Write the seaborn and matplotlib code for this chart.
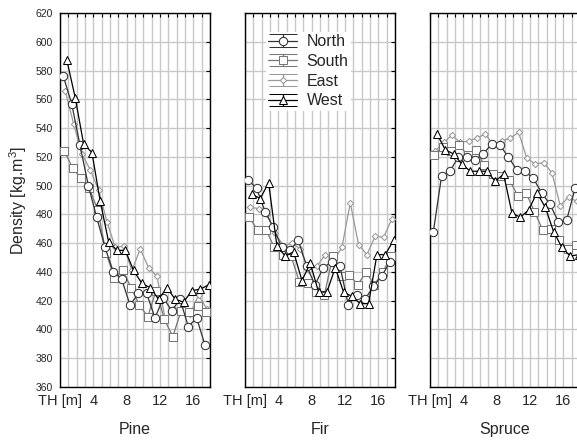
import numpy as np
import pandas as pd
import seaborn as sns
import matplotlib.pyplot as plt
from matplotlib.container import ErrorbarContainer
from matplotlib.legend_handler import HandlerErrorbar

species = ['Pine', 'Fir', 'Spruce']
aspects = ['North', 'South', 'East', 'West']
th = np.arange(1, 19)  # sampling position along the stem

pine_north = [576, 557, 528, 500, 478, 457, 440, 435, 417, 425, 425, 408, 422, 413, 421, 402, 408, 389]
pine_south = [524, 512, 505, 498, 483, 453, 436, 441, 429, 417, 409, 427, 407, 395, 413, 412, 416, 412]
pine_east = [566, 543, 522, 511, 497, 475, 457, 458, 441, 456, 443, 437, 407, 414, 415, 411, 424, 414]
pine_west = [587, 561, 529, 523, 489, 461, 455, 455, 441, 432, 429, 421, 429, 421, 419, 427, 428, 431]

fir_north = [504, 498, 482, 471, 457, 455, 462, 444, 431, 443, 447, 444, 417, 424, 421, 430, 437, 447]
fir_south = [478, 469, 469, 457, 452, 451, 433, 432, 426, 424, 451, 437, 438, 431, 440, 431, 440, 451]
fir_east = [485, 484, 480, 467, 458, 460, 456, 441, 444, 452, 448, 457, 488, 459, 452, 465, 464, 477]
fir_west = [494, 491, 502, 458, 451, 454, 434, 446, 426, 426, 443, 426, 423, 418, 418, 452, 452, 462]

spruce_north = [468, 507, 510, 520, 520, 518, 522, 529, 528, 520, 511, 510, 505, 495, 487, 475, 476, 498]
spruce_south = [521, 527, 524, 528, 521, 525, 514, 508, 507, 504, 493, 495, 482, 469, 470, 462, 456, 459]
spruce_east = [524, 530, 535, 530, 531, 533, 536, 528, 531, 533, 537, 519, 515, 516, 509, 486, 492, 489]
spruce_west = [536, 525, 522, 515, 510, 510, 510, 503, 508, 481, 478, 483, 495, 485, 468, 457, 451, 452]

values = {
    'Pine': [pine_north, pine_south, pine_east, pine_west],
    'Fir': [fir_north, fir_south, fir_east, fir_west],
    'Spruce': [spruce_north, spruce_south, spruce_east, spruce_west],
}
rows = []
for sp in species:
    for asp, vals in zip(aspects, values[sp]):
        for h, v in zip(th, vals):
            rows.append((sp, asp, h, v))
df = pd.DataFrame(rows, columns=['species', 'aspect', 'th', 'density'])

styles = {
    'North': dict(color='#333333', marker='o', ms=6),
    'South': dict(color='#777777', marker='s', ms=6),
    'East': dict(color='#999999', marker='D', ms=3.2),
    'West': dict(color='black', marker='^', ms=5.5),
}
shift = {'North': -0.6, 'South': -0.47, 'East': -0.37, 'West': -0.17}

sns.set_style('white')
plt.rcParams['font.family'] = ['Liberation Sans', 'DejaVu Sans']
plt.rcParams['mathtext.fontset'] = 'custom'
plt.rcParams['mathtext.rm'] = 'Liberation Sans'
plt.rcParams['mathtext.it'] = 'Liberation Sans:italic'

fig, axes = plt.subplots(1, 3, sharey=True, figsize=(5.77, 4.44), dpi=100)
fig.subplots_adjust(left=0.104, right=1.0052, top=0.9707, bottom=0.1284, wspace=0.2333)

for ax, sp in zip(axes, species):
    for asp in ['East', 'South', 'North', 'West']:
        sub = df[(df.species == sp) & (df.aspect == asp)]
        st = styles[asp]
        sns.lineplot(x=sub.th + shift[asp], y=sub.density, ax=ax, errorbar=None,
                     color=st['color'], lw=0.9, marker=st['marker'], markersize=st['ms'],
                     markeredgecolor=st['color'], markeredgewidth=0.75,
                     legend=False, zorder=3)
    for line in ax.lines:
        line.set_markerfacecolor('white')
    ax.set_xlim(0, 18)
    ax.set_ylim(360, 620)
    ax.set_yticks(range(360, 621, 20))
    ax.set_xticks(range(0, 19))
    ax.set_xticklabels(['TH [m]' if t == 0 else (str(t) if t % 4 == 0 else '')
                        for t in range(0, 19)])
    ax.grid(True, color='#c8c8c8', lw=1)
    ax.tick_params(direction='in', top=True, right=True, length=3, width=0.8,
                   color='black')
    ax.tick_params(axis='x', labelsize=10.5, pad=5)
    ax.tick_params(axis='y', labelsize=7.5, pad=5)
    for s in ax.spines.values():
        s.set_color('black')
        s.set_linewidth(1)
    ax.set_xlabel(sp, fontsize=11.5, labelpad=10)
    ax.set_ylabel('')

axes[2].tick_params(right=False)
axes[0].set_ylabel('Density [kg.m$^{3}$]', fontsize=11.5, labelpad=5)

# legend with whisker style handles
handles = []
for asp in aspects:
    st = styles[asp]
    h = axes[1].errorbar([np.nan], [np.nan], yerr=[1.0], color=st['color'],
                         marker=st['marker'], ms=st['ms'], mfc='white', mec=st['color'],
                         mew=0.75, lw=0.9, elinewidth=0.9, capsize=10, capthick=0.9)
    handles.append(h)
leg = axes[1].legend(handles, aspects, loc='upper left', bbox_to_anchor=(0.14, 0.95),
                     frameon=True, facecolor='white', edgecolor='none', framealpha=1,
                     fancybox=False, fontsize=11.5, handlelength=1.8, handletextpad=0.6,
                     labelspacing=0.3, borderpad=0.15, borderaxespad=0,
                     handler_map={ErrorbarContainer: HandlerErrorbar(xerr_size=0.38)})
leg.set_zorder(5)

plt.savefig('out.png', dpi=100)
